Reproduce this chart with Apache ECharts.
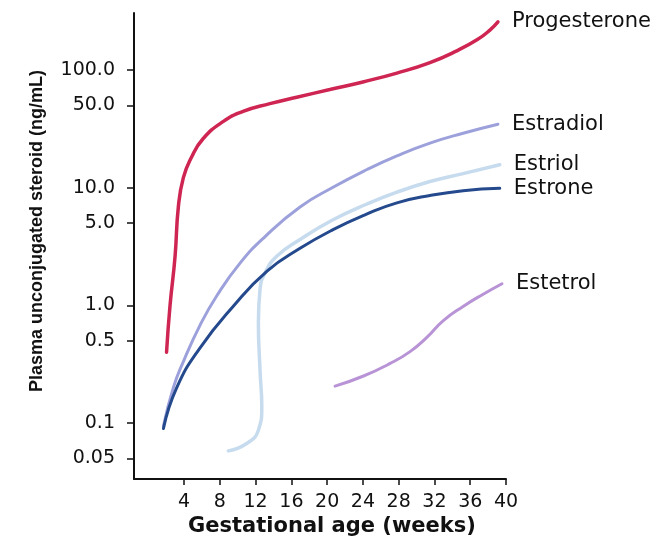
<!DOCTYPE html>
<html>
<head>
<meta charset="utf-8">
<script src="https://cdn.jsdelivr.net/npm/echarts@6/dist/echarts.min.js"></script>
<style>html,body{margin:0;padding:0;background:#fff}#c{width:667px;height:542px}</style>
</head>
<body>
<div id="c"></div>
<script>
const xTicks = [4, 8, 12, 16, 20, 24, 28, 32, 36, 40];
const yTicks = [0.05, 0.1, 0.5, 1, 5, 10, 50, 100];
const seriesNames = ['Progesterone', 'Estradiol', 'Estriol', 'Estrone', 'Estetrol'];

// [gestational week, ng/mL]
const progesterone = [[2.04,0.40],[2.43,1.0],[2.99,2.6],[3.36,6.9],[3.92,12.2],[4.8,18],[6.1,26],[8.4,36.7],[10.6,44.6],[13.6,51.9],[16.6,58.9],[20.3,68.4],[24.0,79.4],[27.8,94.4],[31.5,116],[34.5,146],[36.8,182],[38.2,219],[39.1,257]];
const estradiol = [[1.7,0.095],[2.8,0.2],[3.92,0.333],[5.79,0.68],[7.66,1.21],[10.26,2.29],[13.06,3.85],[16.97,6.87],[20.66,10.1],[24.46,14.3],[27.8,18.7],[31.5,24],[35.2,29.1],[39.1,34.7]];
const estriol = [[8.95,0.058],[11.0,0.067],[12.31,0.087],[12.69,0.137],[12.5,0.275],[12.31,0.72],[12.5,1.39],[13.06,1.89],[14.36,2.62],[16.97,3.64],[20.66,5.35],[24.46,7.28],[27.8,9.17],[31.5,11.3],[35.2,13.2],[39.3,15.7]];
const estrone = [[1.69,0.09],[3.18,0.2],[5.79,0.436],[9.48,0.98],[13.28,1.96],[16.97,3.06],[20.66,4.41],[24.35,5.95],[27.8,7.45],[31.5,8.6],[35.2,9.45],[39.3,9.9]];
const estetrol = [[20.88,0.206],[24.0,0.25],[27.0,0.32],[29.27,0.405],[31.2,0.54],[32.96,0.74],[35.2,0.98],[37.4,1.24],[39.55,1.53]];

const seriesData = [progesterone, estradiol, estriol, estrone, estetrol];
const colors = ['#cf2552', '#9da1db', '#c6dbee', '#24498c', '#b893d6'];
const widths = [3.5, 3, 3.5, 3, 3];

const FONT = 'DejaVu Sans';
const chart = echarts.init(document.getElementById('c'), null, {renderer: 'canvas'});
chart.setOption({
  animation: false,
  backgroundColor: '#ffffff',
  grid: {left: 134, right: 161, top: 13, bottom: 56},
  xAxis: {
    type: 'value', min: -1.6, max: 40,
    axisLine: {onZero: false, lineStyle: {color: '#111', width: 2}},
    axisTick: {show: true, customValues: xTicks, length: 6, lineStyle: {color: '#111', width: 1.5}},
    axisLabel: {customValues: xTicks, fontSize: 19, fontFamily: FONT, color: '#111', margin: 13},
    splitLine: {show: false},
    name: 'Gestational age (weeks)', nameLocation: 'middle', nameGap: 36,
    nameTextStyle: {fontSize: 21, fontWeight: 'bold', fontFamily: FONT, color: '#111', padding: [0, 0, 0, 24]}
  },
  yAxis: {
    type: 'log', logBase: 10, min: 0.0334, max: 306,
    axisLine: {show: true, onZero: false, lineStyle: {color: '#111', width: 2}},
    axisTick: {show: true, customValues: yTicks, length: 7, lineStyle: {color: '#111', width: 1.5}},
    axisLabel: {customValues: yTicks, fontSize: 19, fontFamily: FONT, color: '#111', margin: 19,
      formatter: v => (v >= 1 ? Number(v).toFixed(1) : String(+Number(v).toPrecision(2)))},
    splitLine: {show: false},
    name: 'Plasma unconjugated steroid (ng/mL)', nameLocation: 'middle', nameGap: 88,
    nameTextStyle: {fontSize: 18, fontWeight: 'bold', fontFamily: 'Liberation Sans', color: '#111', padding: [0, 0, 0, 30]}
  },
  series: seriesNames.map((name, i) => ({
    name: name, type: 'line', data: seriesData[i], smooth: 0.5, symbol: 'none',
    lineStyle: {color: colors[i], width: widths[i], cap: 'round'},
    endLabel: {show: true, formatter: '{a}', color: '#111', fontSize: 21, fontFamily: FONT, distance: 14}
  }))
});
</script>
</body>
</html>
